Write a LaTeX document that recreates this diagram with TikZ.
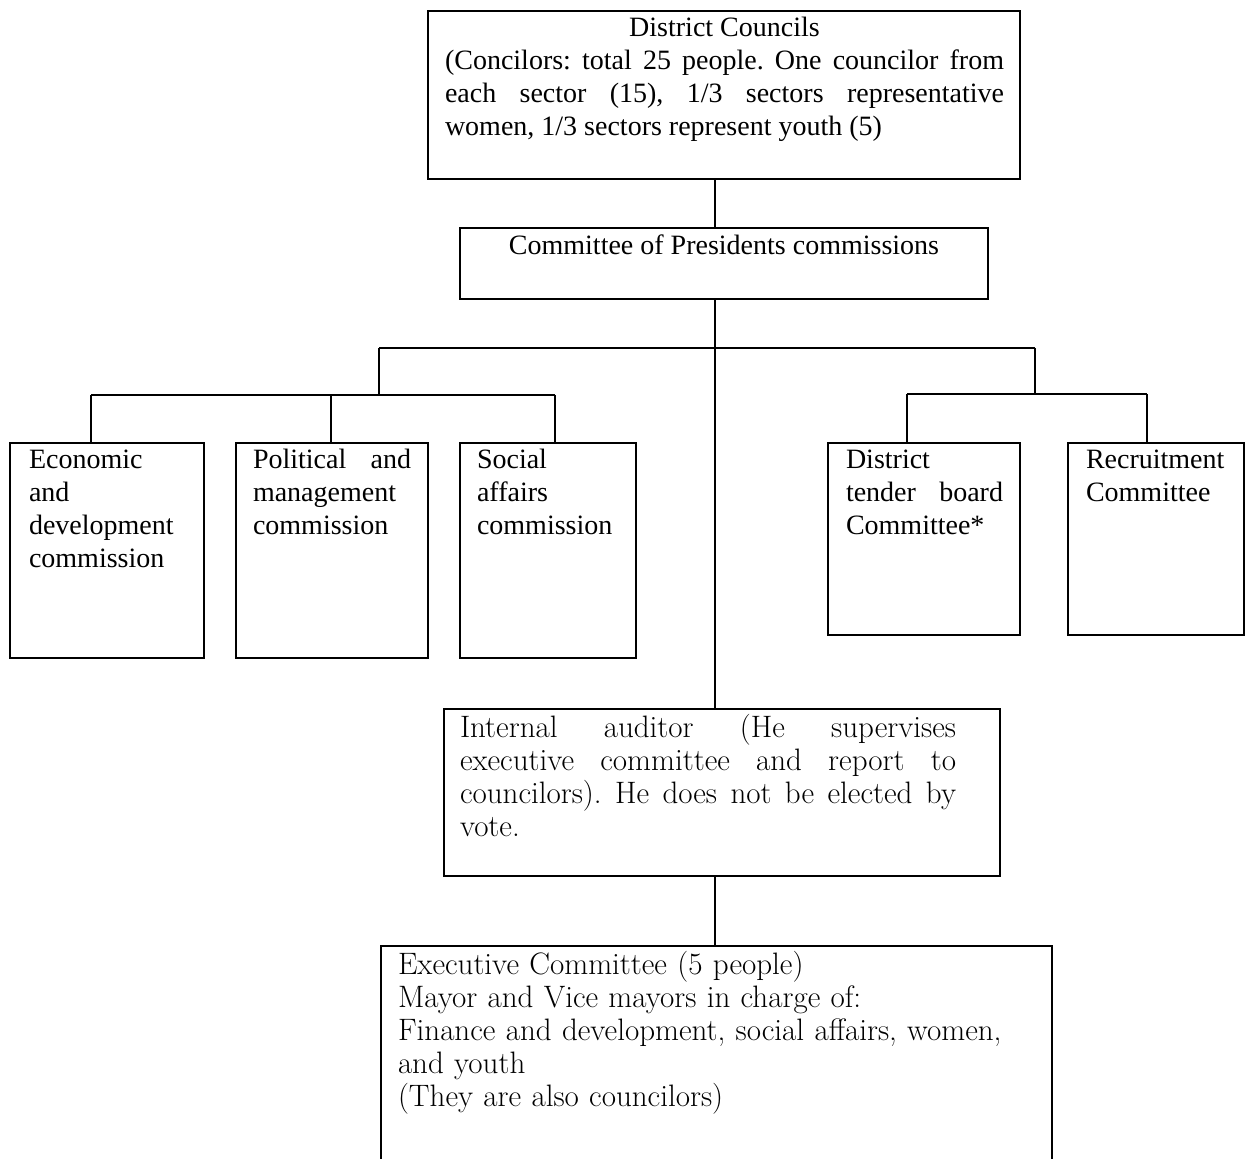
\documentclass[tikz,border=0pt]{standalone}
\usepackage{fontspec}
\newfontfamily\timesfont{Liberation Serif}
\usetikzlibrary{positioning}
\frenchspacing

\begin{document}
\begin{tikzpicture}[x=1pt,y=-1pt,line width=1pt,
  frame node/.style={draw,rectangle,anchor=north west,inner sep=0pt},
  label node/.style={anchor=base west,inner sep=0pt,align=justify,
    font=\timesfont\fontsize{14}{16.5}\selectfont},
  century/.style={font=\fontsize{15.5}{16.6}\selectfont}]
  \useasboundingbox (0,0) rectangle (623.5,579.5);
  \clip (0,0) rectangle (623.5,579.5);
  % frames
  \node[frame node,minimum width=296pt,minimum height=84pt] (dist) at (213.5,5) {};
  \node[frame node,minimum width=264pt,minimum height=35.5pt] (pres) at (229.5,113.5) {};
  \node[frame node,minimum width=97pt,minimum height=107.5pt] (econ) at (4.5,221) {};
  \node[frame node,minimum width=96pt,minimum height=107.5pt] (pol) at (117.5,221) {};
  \node[frame node,minimum width=88pt,minimum height=107.5pt] (soc) at (229.5,221) {};
  \node[frame node,minimum width=96pt,minimum height=96pt] (tend) at (413.5,221) {};
  \node[frame node,minimum width=88pt,minimum height=96pt] (recr) at (533.5,221) {};
  \node[frame node,minimum width=278pt,minimum height=83.5pt] (aud) at (221.5,354) {};
  \node[frame node,minimum width=335.5pt,minimum height=140pt] (exec) at (190,472.5) {};
  % texts
  \node[label node,text width=279.5pt] (dist_t) [below right=13.5pt and 8.5pt of dist.north west,anchor=base west]
    {\hspace*{\fill}District Councils\hspace*{\fill}\\
     (Concilors: total 25 people. One councilor from\linebreak
     each sector (15), 1/3 sectors representative\linebreak
     women, 1/3 sectors represent youth (5)};
  \node[label node,align=center] (pres_t) [below=14pt of pres.north,anchor=base]
    {Committee of Presidents commissions};
  \node[label node,text width=78pt,align=left] (econ_t) [below right=13.5pt and 9.5pt of econ.north west,anchor=base west]
    {Economic\\ and\\ development\\ commission};
  \node[label node,text width=79pt] (pol_t) [below right=13.5pt and 8.5pt of pol.north west,anchor=base west]
    {Political and\linebreak management\\ commission};
  \node[label node,text width=71pt,align=left] (soc_t) [below right=13.5pt and 8.5pt of soc.north west,anchor=base west]
    {Social\\ affairs\\ commission};
  \node[label node,text width=78.5pt] (tend_t) [below right=13.5pt and 9pt of tend.north west,anchor=base west]
    {District\\ tender board\linebreak Committee*};
  \node[label node,text width=71pt,align=left] (recr_t) [below right=13.5pt and 9pt of recr.north west,anchor=base west]
    {Recruitment\\ Committee};
  \node[label node,century,text width=248pt] (aud_t) [below right=14.5pt and 8pt of aud.north west,anchor=base west]
    {Internal auditor (He supervises\linebreak
     executive committee and report to\linebreak
     councilors). He does not be elected by\linebreak
     vote.};
  \node[label node,century,text width=320pt,align=left] (exec_t) [below right=14.5pt and 8.5pt of exec.north west,anchor=base west]
    {Executive Committee (5 people)\\
     Mayor and Vice mayors in charge of:\\
     Finance and development, social affairs, women,\\
     and youth\\
     (They are also councilors)};
  % connectors
  \coordinate (spine) at (357.5,0);
  \coordinate (lbar) at (189.5,174);
  \coordinate (rbar) at (517.5,174);
  \coordinate (le) at (45.5,197.5);
  \coordinate (lp) at (165.5,197.5);
  \coordinate (ls) at (277.5,197.5);
  \coordinate (rt) at (453.5,197);
  \coordinate (rr) at (573.5,197);
  \draw (dist.south -| spine) -- (pres.north -| spine);
  \draw (pres.south -| spine) -- (aud.north -| spine);
  \draw (aud.south -| spine) -- (exec.north -| spine);
  \draw (lbar) -- (rbar);
  \draw (lbar) -- (lbar |- le);
  \draw (rbar) -- (rbar |- rt);
  \draw (le) -- (ls);
  \draw (rt) -- (rr);
  \foreach \a/\b in {le/econ,lp/pol,ls/soc,rt/tend,rr/recr}
    \draw (\a) -- (\a |- \b.north);
\end{tikzpicture}
\end{document}
